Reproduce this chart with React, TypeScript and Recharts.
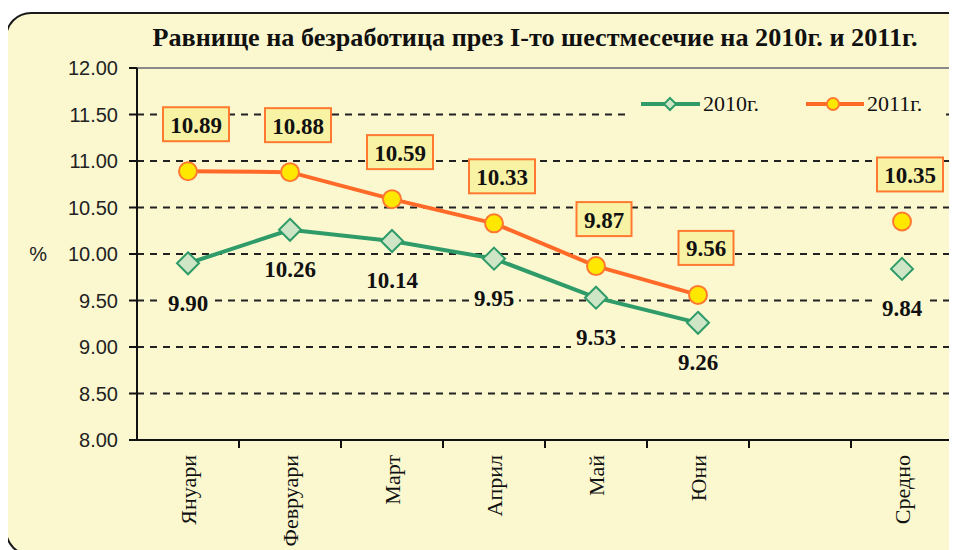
import React from 'react';
import { LineChart, Line, XAxis, YAxis, CartesianGrid, ReferenceLine, Legend, LabelList } from 'recharts';

const months = ['Януари', 'Февруари', 'Март', 'Април', 'Май', 'Юни', '', 'Средно'];
const rate2010 = [9.9, 10.26, 10.14, 9.95, 9.53, 9.26, null, 9.84];
const rate2011 = [10.89, 10.88, 10.59, 10.33, 9.87, 9.56, null, 10.35];
const yTicks = [8, 8.5, 9, 9.5, 10, 10.5, 11, 11.5, 12];

const data = months.map((month, i) => ({
  month,
  y2010: rate2010[i],
  y2011: rate2011[i],
}));

const BG = '#FBF8D0';
const GREEN = '#2E9B68';
const ORANGE = '#FF6A28';
const SERIF = '"Liberation Serif", "Times New Roman", serif';
const SANS = '"Liberation Sans", Arial, sans-serif';

const W = 957;
const H = 550;
const margin = { top: 68, right: 4, bottom: 10, left: 77 };
const yAxisWidth = 60;
const plotWidth = W - margin.left - margin.right - yAxisWidth;
const halfBand = plotWidth / months.length / 2;

const MonthTick = (props: any) => {
  const { x, y, payload } = props;
  return (
    <g>
      <line x1={x + halfBand} x2={x + halfBand} y1={y} y2={y + 8} stroke="#111" strokeWidth={2} />
      <text
        x={x}
        y={y + 15}
        transform={`rotate(-90, ${x}, ${y + 15})`}
        textAnchor="end"
        dominantBaseline="central"
        fontFamily={SERIF}
        fontSize={22}
        fill="#111"
      >
        {payload.value}
      </text>
    </g>
  );
};

const Diamond = (props: any) => {
  const { cx, cy } = props;
  if (cx == null || cy == null || props.value == null) return null;
  const r = 11;
  return (
    <polygon
      points={`${cx},${cy - r} ${cx + r},${cy} ${cx},${cy + r} ${cx - r},${cy}`}
      fill="#CFE6C6"
      stroke={GREEN}
      strokeWidth={2}
    />
  );
};

const Circle = (props: any) => {
  const { cx, cy } = props;
  if (cx == null || cy == null || props.value == null) return null;
  return <circle cx={cx} cy={cy} r={9} fill="#FFE800" stroke="#FF7A30" strokeWidth={2} />;
};

const label2010 = (props: any) => {
  const { x, y, value } = props;
  if (value == null) return null;
  const t = Number(value).toFixed(2);
  const w = t.length * 11 + 6;
  return (
    <g>
      <rect x={x - w / 2} y={y + 26} width={w} height={26} fill={BG} />
      <text x={x} y={y + 40} textAnchor="middle" dominantBaseline="central" fontFamily={SERIF} fontWeight="bold" fontSize={23} fill="#111">
        {t}
      </text>
    </g>
  );
};

const label2011 = (props: any) => {
  const { x, y, value } = props;
  if (value == null) return null;
  const t = Number(value).toFixed(2);
  const w = t.length * 11 + 11;
  const cx = x + 8;
  const cy = y - 47;
  return (
    <g>
      <rect x={cx - w / 2} y={cy - 17} width={w} height={34} fill="#F8F3A4" stroke="#FF7A30" strokeWidth={2} />
      <text x={cx} y={cy + 1} textAnchor="middle" dominantBaseline="central" fontFamily={SERIF} fontWeight="bold" fontSize={23} fill="#111">
        {t}
      </text>
    </g>
  );
};

const renderLegend = () => (
  <svg width={316} height={34}>
    <rect x={0} y={0} width={316} height={34} fill={BG} />
    <line x1={11} x2={70} y1={15} y2={15} stroke={GREEN} strokeWidth={4} />
    <polygon points="40,9 46,15 40,21 34,15" fill="#CFE6C6" stroke={GREEN} strokeWidth={2} />
    <text x={73} y={22} fontFamily={SERIF} fontSize={22} fill="#111">2010г.</text>
    <line x1={176} x2={234} y1={15} y2={15} stroke={ORANGE} strokeWidth={4} />
    <circle cx={203} cy={15} r={6} fill="#FFE800" stroke="#FF7A30" strokeWidth={2} />
    <text x={237} y={22} fontFamily={SERIF} fontSize={22} fill="#111">2011г.</text>
  </svg>
);

export default function App() {
  return (
    <div style={{ position: 'relative', width: W, height: H, margin: '-8px 0 0 -8px', overflow: 'hidden', background: '#fff' }}>
      <div
        style={{
          position: 'absolute',
          left: 5,
          top: 12,
          width: 1000,
          height: 540,
          border: '2px solid #1a1a1a',
          borderRadius: 26,
          background: BG,
        }}
      />
      <svg width={W} height={60} style={{ position: 'absolute', left: 0, top: 0 }}>
        <text x={535} y={46} textAnchor="middle" fontFamily={SERIF} fontWeight="bold" fontSize={26} fill="#111" textLength={765} lengthAdjust="spacingAndGlyphs">
          Равнище на безработица през I-то шестмесечие на 2010г. и 2011г.
        </text>
      </svg>
      <div style={{ position: 'absolute', left: 0, top: 0 }}>
        <LineChart width={W} height={H} data={data} margin={margin}>
          <CartesianGrid horizontal vertical={false} stroke="#222" strokeWidth={2} strokeDasharray="7 6" />
          <ReferenceLine y={12} stroke="#8a8a8a" strokeWidth={2} />
          <XAxis
            dataKey="month"
            scale="band"
            interval={0}
            height={100}
            tickLine={false}
            tickSize={0}
            tickMargin={0}
            axisLine={{ stroke: '#111', strokeWidth: 2 }}
            tick={<MonthTick />}
          />
          <YAxis
            domain={[8, 12]}
            ticks={yTicks}
            width={yAxisWidth}
            tickFormatter={(v: number) => v.toFixed(2)}
            tick={{ fill: '#222', fontSize: 20, fontFamily: SANS }}
            tickSize={8}
            tickMargin={11}
            tickLine={{ stroke: '#111', strokeWidth: 2 }}
            axisLine={{ stroke: '#111', strokeWidth: 2 }}
            allowDataOverflow
            label={{ value: '%', position: 'left', offset: 30, fontSize: 20, fontFamily: SANS, fill: '#222' }}
          />
          <YAxis
            yAxisId="right"
            orientation="right"
            domain={[8, 12]}
            width={0}
            tick={false}
            tickLine={false}
            axisLine={{ stroke: '#333', strokeWidth: 2 }}
          />
          <Legend
            layout="horizontal"
            verticalAlign="middle"
            align="center"
            content={renderLegend}
            wrapperStyle={{ left: 630, top: 89, width: 316, height: 34 }}
          />
          <Line
            dataKey="y2010"
            stroke={GREEN}
            strokeWidth={4}
            dot={<Diamond />}
            activeDot={false}
            isAnimationActive={false}
          >
            <LabelList dataKey="y2010" content={label2010} />
          </Line>
          <Line
            dataKey="y2011"
            stroke={ORANGE}
            strokeWidth={4}
            dot={<Circle />}
            activeDot={false}
            isAnimationActive={false}
          >
            <LabelList dataKey="y2011" content={label2011} />
          </Line>
        </LineChart>
      </div>
    </div>
  );
}
